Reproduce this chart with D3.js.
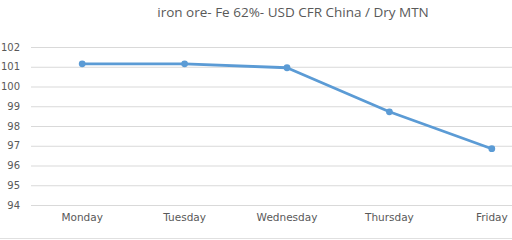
<!DOCTYPE html>
<html><head><meta charset="utf-8">
<script src="https://cdn.jsdelivr.net/npm/d3@7"></script>
<style>body{margin:0;background:#fff;}svg{display:block;}</style>
</head><body>
<script>
const categories = ["Monday","Tuesday","Wednesday","Thursday","Friday"];
const values = [101.15, 101.15, 100.95, 98.72, 96.85];
const yTicks = [94,95,96,97,98,99,100,101,102];
const title = "iron ore- Fe 62%- USD CFR China / Dry MTN";

const W=512,H=240;
const svg=d3.select("body").append("svg").attr("width",W).attr("height",H);
const x=d3.scaleBand().domain(categories).range([31,543]);
const y=d3.scaleLinear().domain([94,102]).range([205,47]);

svg.append("text").attr("x",293).attr("y",17).attr("text-anchor","middle")
  .attr("font-family","Open Sans, sans-serif").attr("font-size",13.5).attr("fill","#595959").text(title);

const ga=svg.append("g").attr("transform","translate(31,0)")
  .call(d3.axisLeft(y).tickValues(yTicks).tickSize(-(W-31)).tickFormat(d3.format("d")));
ga.select(".domain").remove();
ga.selectAll(".tick line").attr("stroke","#d9d9d9");
ga.selectAll(".tick text").attr("x",-11).attr("fill","#595959").attr("font-size",10).attr("font-family","DejaVu Sans, sans-serif");

const gx=svg.append("g").attr("transform","translate(0,205)")
  .call(d3.axisBottom(x).tickSize(0).tickPadding(9));
gx.select(".domain").remove();
gx.selectAll(".tick text").attr("fill","#595959").attr("font-size",10.5).attr("font-family","DejaVu Sans, sans-serif");

svg.append("line").attr("x1",0).attr("x2",W).attr("y1",238.5).attr("y2",238.5).attr("stroke","#e0e0e0");

const line=d3.line().x((d,i)=>x(categories[i])+x.bandwidth()/2).y(d=>y(d));
svg.append("path").datum(values).attr("d",line).attr("fill","none").attr("stroke","#5b9bd5").attr("stroke-width",2.8).attr("stroke-linejoin","round");
svg.selectAll("circle.pt").data(values).join("circle").attr("class","pt")
  .attr("cx",(d,i)=>x(categories[i])+x.bandwidth()/2).attr("cy",d=>y(d)).attr("r",3.4).attr("fill","#5b9bd5");
</script>
</body></html>
